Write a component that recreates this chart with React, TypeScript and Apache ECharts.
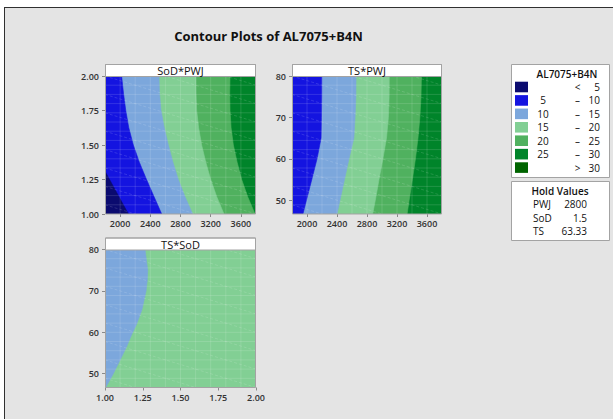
import React, { useEffect, useRef } from "react";
import * as echarts from "echarts";

const FONT = '"Open Sans", "Noto Sans", sans-serif';

const TITLE = "Contour Plots of AL7075+B4N";
const RESPONSE = "AL7075+B4N";

// contour levels; band k lies between LEVELS[k-1] and LEVELS[k]
const LEVELS = [5, 10, 15, 20, 25, 30];
const BAND_COLORS = ["#0b0b6f", "#1414e0", "#7ca7dc", "#82cf94", "#50b15f", "#00842a", "#006400"];
const BAND_LOW = ["", "5", "10", "15", "20", "25", ""];
const BAND_SEP = ["<", "–", "–", "–", "–", "–", ">"];
const BAND_HIGH = ["5", "10", "15", "20", "25", "30", "30"];

const HOLD_NAMES = ["PWJ", "SoD", "TS"];
const HOLD_VALUES = ["2800", "1.5", "63.33"];

const PWJ_RANGE = [1800, 3800];
const SOD_RANGE = [1, 2];
const TS_RANGE = [46.67, 80];
const PWJ_TICKS = [2000, 2400, 2800, 3200, 3600];
const SOD_TICKS = [1, 1.25, 1.5, 1.75, 2];
const TS_TICKS = [50, 60, 70, 80];

// SoD*PWJ contour lines, points [PWJ, SoD] traced from top to bottom
const SOD_PWJ_5 = [[1800, 1.31], [1960, 1.15], [2110, 1.0]];
const SOD_PWJ_10 = [[2020, 2.0], [2045, 1.875], [2075, 1.75], [2115, 1.625], [2175, 1.5], [2255, 1.375], [2350, 1.25], [2450, 1.125], [2551, 1.0]];
const SOD_PWJ_15 = [[2515, 2.0], [2522, 1.875], [2542, 1.75], [2585, 1.625], [2639, 1.5], [2700, 1.375], [2771, 1.25], [2860, 1.125], [2961, 1.0]];
const SOD_PWJ_20 = [[3005, 2.0], [3006, 1.875], [3014, 1.75], [3040, 1.625], [3080, 1.5], [3135, 1.375], [3200, 1.25], [3280, 1.125], [3376, 1.0]];
const SOD_PWJ_25 = [[3456, 2.0], [3452, 1.875], [3456, 1.75], [3470, 1.625], [3500, 1.5], [3550, 1.375], [3610, 1.25], [3690, 1.125], [3787, 1.0]];

// TS*PWJ contour lines, points [PWJ, TS]
const TS_PWJ_10 = [[2198, 80], [2197, 75], [2193, 70], [2188, 65], [2134, 60], [2064, 55], [1993, 50], [1946, 46.67]];
const TS_PWJ_15 = [[2654, 80], [2652, 75], [2641, 70], [2625, 65], [2560, 60], [2500, 55], [2440, 50], [2400, 46.67]];
const TS_PWJ_20 = [[3097, 80], [3095, 75], [3085, 70], [3060, 65], [3012, 60], [2960, 55], [2911, 50], [2875, 46.67]];
const TS_PWJ_25 = [[3526, 80], [3520, 75], [3505, 70], [3480, 65], [3446, 60], [3405, 55], [3362, 50], [3335, 46.67]];

// TS*SoD contour line, points [SoD, TS]
const TS_SOD_15 = [[1.265, 80], [1.283, 75], [1.28, 72.5], [1.272, 70], [1.245, 65.5], [1.21, 62], [1.177, 59.5], [1.143, 56.5], [1.1, 53.3], [1.055, 50], [1.005, 46.67]];

type Contour = { level: number; points: number[][] };
type Panel = {
  title: string;
  xRange: number[];
  yRange: number[];
  xTicks: number[];
  yTicks: number[];
  xDigits: number;
  yDigits: number;
  contours: Contour[];
};

const PANELS: Panel[] = [
  {
    title: "SoD*PWJ", xRange: PWJ_RANGE, yRange: SOD_RANGE, xTicks: PWJ_TICKS, yTicks: SOD_TICKS, xDigits: 0, yDigits: 2,
    contours: [
      { level: 5, points: SOD_PWJ_5 },
      { level: 10, points: SOD_PWJ_10 },
      { level: 15, points: SOD_PWJ_15 },
      { level: 20, points: SOD_PWJ_20 },
      { level: 25, points: SOD_PWJ_25 },
    ],
  },
  {
    title: "TS*PWJ", xRange: PWJ_RANGE, yRange: TS_RANGE, xTicks: PWJ_TICKS, yTicks: TS_TICKS, xDigits: 0, yDigits: 0,
    contours: [
      { level: 10, points: TS_PWJ_10 },
      { level: 15, points: TS_PWJ_15 },
      { level: 20, points: TS_PWJ_20 },
      { level: 25, points: TS_PWJ_25 },
    ],
  },
  {
    title: "TS*SoD", xRange: SOD_RANGE, yRange: TS_RANGE, xTicks: SOD_TICKS, yTicks: TS_TICKS, xDigits: 2, yDigits: 0,
    contours: [{ level: 15, points: TS_SOD_15 }],
  },
];

// plot rectangles of the three panels (px)
const BOXES = [
  { left: 105, top: 76, width: 151, height: 138 },
  { left: 292, top: 76, width: 150, height: 138 },
  { left: 105, top: 249.5, width: 151, height: 138 },
];
const STRIP_H = 12;
// interpolation mesh drawn faintly over the filled bands
const MESH_COLS = 10;
const MESH_ROWS = 15;

const bandBelow = (level: number) => LEVELS.indexOf(level);

function buildOption() {
  const grids: any[] = [];
  const xAxes: any[] = [];
  const yAxes: any[] = [];
  const series: any[] = [];
  const graphics: any[] = [];

  PANELS.forEach((p, i) => {
    const b = BOXES[i];
    const sorted = [...p.contours].sort((a, c) => c.level - a.level);
    const topBand = bandBelow(sorted[0].level) + 1;

    grids.push({
      left: b.left, top: b.top, width: b.width, height: b.height,
      show: true, backgroundColor: BAND_COLORS[topBand], borderWidth: 0,
    });
    const labelStyle = { fontSize: 9, fontWeight: 600, color: "#333", fontFamily: FONT };
    xAxes.push({
      type: "value", gridIndex: i, min: p.xRange[0], max: p.xRange[1],
      axisLine: { show: false },
      splitLine: { show: false },
      axisTick: { show: true, length: 3, customValues: p.xTicks, lineStyle: { color: "#8a8a8a" } },
      axisLabel: { ...labelStyle, margin: 5, customValues: p.xTicks, formatter: (v: number) => v.toFixed(p.xDigits) },
    });
    yAxes.push({
      type: "value", gridIndex: i, min: p.yRange[0], max: p.yRange[1],
      axisLine: { show: false },
      splitLine: { show: false },
      axisTick: { show: true, length: 3, customValues: p.yTicks, lineStyle: { color: "#8a8a8a" } },
      axisLabel: { ...labelStyle, margin: 6, customValues: p.yTicks, formatter: (v: number) => v.toFixed(p.yDigits) },
    });

    // filled contour bands, painted from the highest level down
    series.push({
      type: "custom",
      xAxisIndex: i,
      yAxisIndex: i,
      clip: true,
      silent: true,
      data: sorted.map(() => [p.xRange[0], p.yRange[0]]),
      renderItem: (params: any, api: any) => {
        const c = sorted[params.dataIndex];
        const cs = params.coordSys;
        const pts = c.points.map((pt) => api.coord(pt));
        pts.push([cs.x - 60, cs.y + cs.height + 60]);
        pts.push([cs.x - 60, cs.y - 60]);
        const fill = BAND_COLORS[bandBelow(c.level)];
        return {
          type: "polygon",
          shape: { points: pts },
          style: { fill, stroke: fill, lineWidth: 0.6 },
        };
      },
    });

    // faint triangulation mesh over the bands
    series.push({
      type: "custom",
      xAxisIndex: i,
      yAxisIndex: i,
      clip: true,
      silent: true,
      data: [[p.xRange[0], p.yRange[0]]],
      renderItem: (params: any) => {
        const cs = params.coordSys;
        const dx = cs.width / MESH_COLS;
        const dy = cs.height / MESH_ROWS;
        const children: any[] = [];
        const st = { stroke: "rgba(255,255,255,0.17)", lineWidth: 0.8 };
        for (let r = 1; r < MESH_ROWS; r++) {
          children.push({ type: "line", shape: { x1: cs.x, y1: cs.y + r * dy, x2: cs.x + cs.width, y2: cs.y + r * dy }, style: st });
        }
        for (let c = 1; c < MESH_COLS; c++) {
          children.push({ type: "line", shape: { x1: cs.x + c * dx, y1: cs.y, x2: cs.x + c * dx, y2: cs.y + cs.height }, style: st });
        }
        for (let r = -MESH_COLS; r < MESH_ROWS; r += 2) {
          children.push({
            type: "line",
            shape: { x1: cs.x, y1: cs.y + r * dy, x2: cs.x + cs.width, y2: cs.y + (r + MESH_COLS * 0.5) * dy },
            style: { ...st, lineDash: [3, 2] },
          });
        }
        return { type: "group", children };
      },
    });

    // panel title strip and frame
    graphics.push({
      type: "rect", z: 100,
      shape: { x: b.left + 0.5, y: b.top - STRIP_H + 0.5, width: b.width - 1, height: STRIP_H },
      style: { fill: "#ffffff", stroke: "#a3a3a3", lineWidth: 1 },
    });
    graphics.push({
      type: "rect", z: 100,
      shape: { x: b.left + 0.5, y: b.top - STRIP_H + 0.5, width: b.width - 1, height: b.height + STRIP_H - 0.5 },
      style: { fill: "none", stroke: "#a3a3a3", lineWidth: 1 },
    });
    graphics.push({
      type: "text", z: 101,
      x: b.left + b.width / 2, y: b.top - STRIP_H / 2 + 0.5,
      style: { text: p.title, fontSize: 11, fontFamily: FONT, fill: "#111", align: "center", verticalAlign: "middle" },
    });
  });

  // main title
  graphics.push({
    type: "text", z: 101, x: 268.5, y: 36,
    style: { text: TITLE, fontSize: 13, fontWeight: "bold", fontFamily: FONT, fill: "#111", align: "center", verticalAlign: "middle" },
  });

  // colour key
  const lx = 511, ly = 64;
  graphics.push({
    type: "rect", z: 100, shape: { x: lx + 0.5, y: ly + 0.5, width: 98, height: 113 },
    style: { fill: "#ffffff", stroke: "#a3a3a3", lineWidth: 1 },
  });
  graphics.push({
    type: "text", z: 101, x: 567, y: 74,
    style: { text: RESPONSE, fontSize: 10, fontWeight: 600, fontFamily: FONT, fill: "#111", align: "center", verticalAlign: "middle" },
  });
  BAND_COLORS.forEach((col, k) => {
    const cy = 87 + k * 13.43;
    graphics.push({
      type: "rect", z: 101, shape: { x: 515, y: cy - 5.3, width: 13, height: 10.6 },
      style: { fill: col },
    });
    const t = { fontSize: 10, fontFamily: FONT, fill: "#111", verticalAlign: "middle" };
    if (BAND_LOW[k]) graphics.push({ type: "text", z: 101, x: 543, y: cy, style: { ...t, text: BAND_LOW[k], align: "center" } });
    graphics.push({ type: "text", z: 101, x: 577.5, y: cy, style: { ...t, text: BAND_SEP[k], align: "center" } });
    graphics.push({ type: "text", z: 101, x: 600, y: cy, style: { ...t, text: BAND_HIGH[k], align: "right" } });
  });

  // hold values box
  const hy = 181;
  graphics.push({
    type: "rect", z: 100, shape: { x: lx + 0.5, y: hy + 0.5, width: 98, height: 59 },
    style: { fill: "#ffffff", stroke: "#a3a3a3", lineWidth: 1 },
  });
  graphics.push({
    type: "text", z: 101, x: 560, y: 190.5,
    style: { text: "Hold Values", fontSize: 10, fontWeight: 600, fontFamily: FONT, fill: "#111", align: "center", verticalAlign: "middle" },
  });
  HOLD_NAMES.forEach((n, k) => {
    const cy = 204 + k * 13.6;
    const t = { fontSize: 10, fontFamily: FONT, fill: "#111", verticalAlign: "middle" };
    graphics.push({ type: "text", z: 101, x: 533, y: cy, style: { ...t, text: n, align: "left" } });
    graphics.push({ type: "text", z: 101, x: 587, y: cy, style: { ...t, text: HOLD_VALUES[k], align: "right" } });
  });

  return {
    animation: false,
    grid: grids,
    xAxis: xAxes,
    yAxis: yAxes,
    series,
    graphic: graphics,
  };
}

export default function App() {
  const ref = useRef<HTMLDivElement>(null);
  useEffect(() => {
    if (!ref.current) return;
    const chart = echarts.init(ref.current, undefined, { renderer: "svg" });
    chart.setOption(buildOption() as any);
    return () => chart.dispose();
  }, []);
  return (
    <div style={{ position: "fixed", left: 0, top: 0, width: 613, height: 419, background: "#ffffff", overflow: "hidden" }}>
      <div
        style={{
          position: "absolute", left: 4, top: 7, width: 640, height: 440,
          background: "#e4e4e4", borderLeft: "1.5px solid #303030", borderTop: "1.5px solid #303030",
        }}
      />
      <div ref={ref} style={{ position: "absolute", left: 0, top: 0, width: 613, height: 419 }} />
    </div>
  );
}
